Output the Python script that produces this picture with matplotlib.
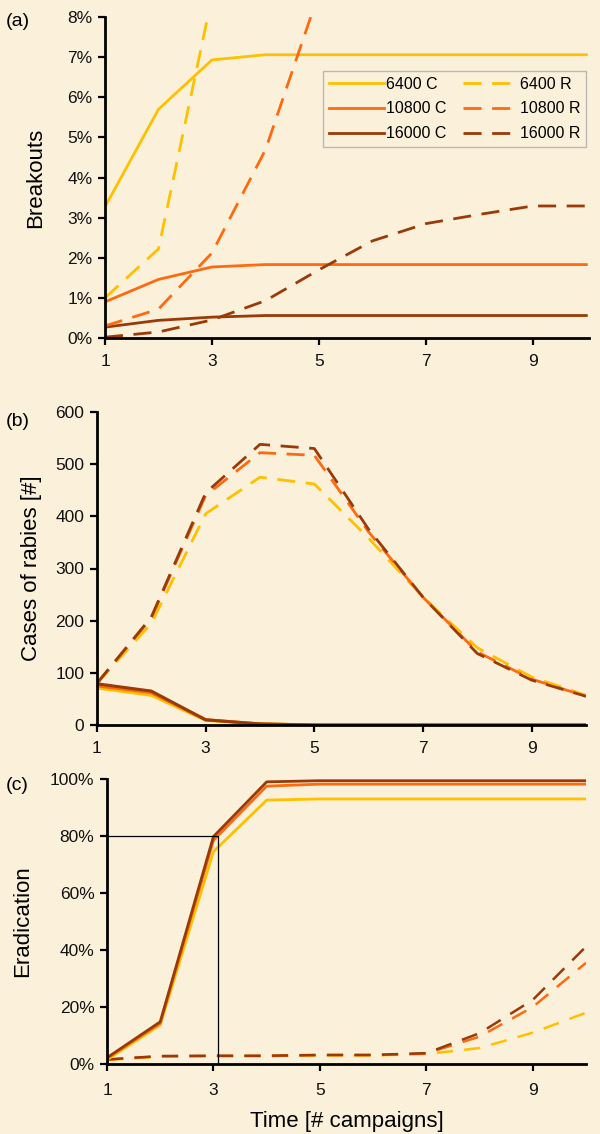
import numpy as np
import matplotlib
matplotlib.use("Agg")
import matplotlib.pyplot as plt

plt.rcParams['font.family'] = ['Liberation Sans', 'DejaVu Sans']

t = [1, 2, 3, 4, 5, 6, 7, 8, 9, 10]
groups = ["6400", "10800", "16000"]
colors = ["#FFC000", "#FF6A10", "#9A3A08"]

# (a) breakouts in %
brk_c = {
    "6400":  [3.27, 5.70, 6.93, 7.06, 7.06, 7.06, 7.06, 7.06, 7.06, 7.06],
    "10800": [0.90, 1.46, 1.77, 1.83, 1.83, 1.83, 1.83, 1.83, 1.83, 1.83],
    "16000": [0.27, 0.44, 0.52, 0.56, 0.56, 0.56, 0.56, 0.56, 0.56, 0.56],
}
brk_r = {
    "6400":  [1.00, 2.22, 8.50, 12.0, 14.0, 15.0, 15.0, 15.0, 15.0, 15.0],
    "10800": [0.30, 0.72, 2.12, 4.69, 8.60, 10.0, 11.0, 12.0, 12.0, 12.0],
    "16000": [0.02, 0.15, 0.45, 0.93, 1.70, 2.42, 2.85, 3.08, 3.29, 3.29],
}

# (b) cases of rabies
cas_c = {
    "6400":  [71, 57, 9, 2, 0, 0, 0, 0, 0, 0],
    "10800": [75, 62, 10, 2, 0, 0, 0, 0, 0, 0],
    "16000": [79, 65, 10, 2, 0, 0, 0, 0, 0, 0],
}
cas_r = {
    "6400":  [80, 195, 405, 475, 462, 358, 245, 148, 92, 57],
    "10800": [80, 205, 440, 522, 517, 370, 245, 140, 88, 55],
    "16000": [80, 207, 445, 538, 530, 375, 245, 137, 86, 55],
}

# (c) eradication in %
era_c = {
    "6400":  [1.5, 13.7, 74.5, 92.6, 93.0, 93.0, 93.0, 93.0, 93.0, 93.0],
    "10800": [2.0, 14.3, 78.5, 97.5, 98.2, 98.2, 98.2, 98.2, 98.2, 98.2],
    "16000": [2.2, 14.8, 79.8, 99.0, 99.4, 99.4, 99.4, 99.4, 99.4, 99.4],
}
era_r = {
    "6400":  [1.5, 2.6, 2.8, 2.8, 3.0, 3.0, 3.5, 5.6, 11.0, 18.0],
    "10800": [1.5, 2.7, 2.8, 2.8, 3.1, 3.1, 3.7, 9.6, 20.0, 35.5],
    "16000": [1.6, 2.8, 2.9, 2.9, 3.2, 3.2, 3.8, 10.8, 22.5, 41.2],
}

xticks = [1, 3, 5, 7, 9]
a_ticks = [0, 1, 2, 3, 4, 5, 6, 7, 8]
a_labels = ["0%", "1%", "2%", "3%", "4%", "5%", "6%", "7%", "8%"]
b_ticks = [0, 100, 200, 300, 400, 500, 600]
c_ticks = [0, 20, 40, 60, 80, 100]
c_labels = ["0%", "20%", "40%", "60%", "80%", "100%"]

bg = "#FBF1DA"
W, H = 600, 1134
fig = plt.figure(figsize=(W / 100, H / 100), dpi=100, facecolor=bg)


def box(l, r, t_, b_):
    return [l / W, (H - b_) / H, (r - l) / W, (b_ - t_) / H]


def style(ax, xpad=6.5):
    ax.set_facecolor("none")
    for s in ["top", "right"]:
        ax.spines[s].set_visible(False)
    for s in ["left", "bottom"]:
        ax.spines[s].set_linewidth(2)
        ax.spines[s].set_color("black")
    ax.tick_params(direction="out", length=5, width=1.6, labelsize=12.5,
                   colors="black", labelcolor="#111111", pad=4)
    ax.tick_params(axis="x", pad=xpad)
    ax.set_xticks(xticks)
    ax.set_xticklabels([str(v) for v in xticks])


axa = fig.add_axes(box(105, 589, 17, 338))
axb = fig.add_axes(box(97, 586, 412, 725))
axc = fig.add_axes(box(107, 586, 779, 1064))

for g, col in zip(groups, colors):
    axa.plot(t, brk_c[g], color=col, lw=2.0, label=g + " C")
for g, col in zip(groups, colors):
    axa.plot(t, brk_r[g], color=col, lw=2.0, dashes=(6.5, 3.8), label=g + " R")
axa.set_xlim(1, 10.05)
axa.set_ylim(0, 8)
axa.set_yticks(a_ticks)
axa.set_yticklabels(a_labels)
style(axa)
axa.set_ylabel("Breakouts", fontsize=16, labelpad=15)
leg = axa.legend(ncol=2, loc="upper right", bbox_to_anchor=(0.994, 0.832),
                 fontsize=11.5, handlelength=3.5, handletextpad=0.1,
                 columnspacing=1.0, labelspacing=0.62, frameon=True,
                 fancybox=False, borderpad=0.35, borderaxespad=0)
leg.get_frame().set_facecolor("none")
leg.get_frame().set_edgecolor("#aaaaaa")
leg.get_frame().set_linewidth(1.0)

for g, col in zip(groups, colors):
    axb.plot(t, cas_r[g], color=col, lw=2.0, dashes=(6.5, 3.8))
for g, col in zip(groups, colors):
    axb.plot(t, cas_c[g], color=col, lw=2.2)
axb.set_xlim(1, 10)
axb.set_ylim(0, 600)
axb.set_yticks(b_ticks)
axb.set_yticklabels([str(v) for v in b_ticks])
style(axb)
axb.set_ylabel("Cases of rabies [#]", fontsize=16, labelpad=10)

for g, col in zip(groups, colors):
    axc.plot(t, era_r[g], color=col, lw=1.8, dashes=(6.5, 4.5))
for g, col in zip(groups, colors):
    axc.plot(t, era_c[g], color=col, lw=2.0)
axc.plot([1, 3.08, 3.08], [80, 80, 0], color="black", lw=0.9)
axc.set_xlim(1, 10)
axc.set_ylim(0, 100)
axc.set_yticks(c_ticks)
axc.set_yticklabels(c_labels)
style(axc, xpad=9)
axc.set_ylabel("Eradication", fontsize=16, labelpad=12)
axc.set_xlabel("Time [# campaigns]", fontsize=16, labelpad=9)

for lab, y in [("(a)", 22), ("(b)", 421), ("(c)", 785)]:
    fig.text(6 / W, 1 - y / H, lab, fontsize=14, va="center", ha="left")

fig.savefig("out.png", dpi=100, facecolor=bg)
